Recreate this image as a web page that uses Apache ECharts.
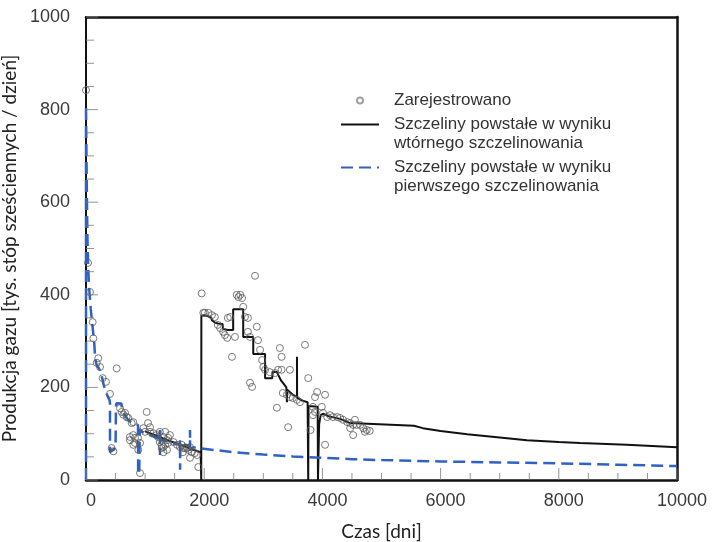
<!DOCTYPE html>
<html>
<head>
<meta charset="utf-8">
<script src="https://cdn.jsdelivr.net/npm/echarts@6/dist/echarts.min.js"></script>
<style>
  html, body { margin: 0; padding: 0; background: #fff; }
  #chart { width: 714px; height: 542px; }
</style>
</head>
<body>
<div id="chart"></div>
<script>
// Zarejestrowano - punkty pomiarowe [czas (dni), produkcja]
var recorded = [
  [0, 842], [34, 469], [68, 406], [113, 341], [124, 306], [181, 253], [208, 263], [237, 244],
  [282, 220], [338, 212], [406, 186], [519, 241], [434, 69], [462, 62], [575, 155], [604, 147],
  [631, 141], [660, 145], [688, 136], [716, 134], [800, 125], [773, 123], [744, 93], [800, 97],
  [829, 91], [744, 86], [800, 76], [829, 80], [880, 91], [914, 80], [885, 65], [914, 15],
  [970, 112], [1000, 104], [1027, 147], [1050, 123], [1083, 114], [1083, 104], [1140, 101],
  [1195, 97], [1250, 104], [1220, 93], [1310, 93], [1340, 104], [1390, 91], [1420, 97],
  [1250, 82], [1280, 76], [1310, 71], [1370, 86], [1390, 80], [1340, 76], [1280, 69], [1370, 65],
  [1310, 60], [1480, 82], [1540, 76], [1590, 71], [1620, 76], [1650, 69], [1680, 69], [1710, 69],
  [1730, 65], [1760, 71], [1790, 60], [1840, 58], [1880, 54], [1760, 48], [1900, 28], [1640, 60],
  [1957, 403], [1985, 361], [2010, 361], [2070, 361], [2130, 356], [2180, 352], [2230, 335],
  [2270, 328], [2320, 320], [2350, 313], [2390, 307], [2400, 350], [2440, 352], [2550, 400],
  [2580, 395], [2610, 400], [2640, 393], [2520, 309], [2470, 266], [2660, 374], [2690, 352],
  [2740, 350], [2860, 441], [2890, 331], [2740, 320], [2775, 309], [2910, 302], [2945, 281],
  [2980, 259], [3000, 244], [3030, 238], [3110, 233], [3200, 231], [3250, 238], [3310, 238],
  [3450, 238], [2775, 210], [2810, 201], [3280, 285], [3310, 266], [3230, 156], [3330, 188],
  [3400, 184], [3450, 179], [3500, 177], [3570, 173], [3620, 168], [3705, 292], [3760, 220],
  [3420, 114], [3910, 190], [3875, 179], [4045, 184], [3840, 158], [3875, 147], [3840, 140],
  [3990, 158], [4010, 145], [3800, 108], [4045, 76], [4080, 136], [4130, 140], [4180, 136],
  [4250, 136], [4300, 134], [4350, 130], [4420, 125], [4470, 123], [4520, 119], [4580, 119],
  [4640, 119], [4690, 112], [4750, 108], [4800, 106], [4470, 112], [4520, 97], [4550, 130],
  [4720, 104]
];

// Szczeliny powstałe w wyniku wtórnego szczelinowania (model)
var secondaryFrac = [
  [1000, 105], [1200, 95], [1400, 85], [1600, 76], [1800, 66], [1940, 60], [1950, 0],
  [1952, 355], [2000, 356], [2060, 354], [2120, 350], [2130, 345], [2180, 340], [2230, 338],
  [2310, 337], [2320, 326], [2400, 324], [2490, 324], [2490, 369], [2660, 369], [2660, 309],
  [2830, 309], [2830, 272], [3030, 272], [3030, 220], [3150, 220], [3160, 233], [3230, 233],
  [3300, 215], [3390, 200], [3400, 201], [3400, 168], [3405, 195], [3500, 184], [3570, 180],
  [3570, 266], [3572, 178], [3650, 172], [3750, 168], [3760, 165], [3760, 0], [3765, 0],
  [3765, 160], [3920, 158], [3925, 0], [3940, 0], [3945, 120], [3970, 140], [4010, 143],
  [4100, 138], [4300, 132], [4470, 123], [4480, 119], [5550, 117], [5700, 112], [6000, 106],
  [6450, 99], [7000, 92], [7460, 86], [8000, 82], [8360, 80], [9150, 76], [10000, 71]
];

// Szczeliny powstałe w wyniku pierwszego szczelinowania (model)
var primaryFrac = [
  [0, 0], [0, 810], [8, 700], [16, 600], [25, 520], [35, 470], [50, 420], [65, 395], [80, 370],
  [100, 345], [120, 320], [140, 295], [155, 262], [175, 250], [210, 243], [240, 236], [270, 222],
  [300, 205], [330, 192], [370, 180], [400, 172], [406, 166], [406, 60], [425, 60], [440, 64],
  [500, 69], [507, 69], [507, 160], [515, 166], [600, 165], [610, 152], [650, 143], [700, 132],
  [760, 125], [800, 122], [880, 119], [882, 20], [900, 12], [905, 15], [910, 110], [950, 104],
  [1030, 100], [1120, 95], [1220, 90], [1250, 88], [1250, 108], [1252, 54], [1256, 88],
  [1350, 84], [1450, 80], [1590, 76], [1590, 86], [1592, 22], [1596, 80], [1680, 76], [1760, 74],
  [1760, 108], [1762, 66], [1800, 70], [1880, 70], [1950, 68], [2500, 60], [3000, 55],
  [3500, 51], [4000, 48], [4500, 45], [5000, 43], [6000, 40], [7000, 38], [8000, 36],
  [9000, 33], [10000, 30]
];

// podziałki osi
var xMajorTicks = [0, 2000, 4000, 6000, 8000, 10000];
var xMinorTicks = [500, 1000, 1500, 2500, 3000, 3500, 4500, 5000, 5500,
  6500, 7000, 7500, 8500, 9000, 9500];
var yMajorTicks = [0, 200, 400, 600, 800, 1000];
var yMinorTicks = [50, 100, 150, 250, 300, 350, 450, 500, 550,
  650, 700, 750, 850, 900, 950];

var names = [
  'Zarejestrowano',
  'Szczeliny powstałe w wyniku\nwtórnego szczelinowania',
  'Szczeliny powstałe w wyniku\npierwszego szczelinowania'
];

var chart = echarts.init(document.getElementById('chart'));

// górna i prawa krawędź ramki
var frameAxis = {
  axisLine: { show: true, onZero: false, lineStyle: { color: '#111', width: 2.5 } },
  axisTick: { show: false },
  minorTick: { show: false },
  axisLabel: { show: false },
  splitLine: { show: false }
};

// kreski podziałki jako wąskie prostokąty (symbol 'rect'), skierowane do środka wykresu
function tickMarks(values, isX, len) {
  return {
    type: 'scatter',
    silent: true,
    clip: false,
    z: 5,
    symbol: 'rect',
    symbolSize: isX ? [1, len] : [len, 1],
    symbolOffset: isX ? [0, -len / 2] : [len / 2, 0],
    itemStyle: { color: '#7a7a7a', borderWidth: 0 },
    data: values.map(function (v) { return isX ? [v, 0] : [0, v]; })
  };
}

var option = {
  animation: false,
  grid: { left: 86, right: 37, top: 17, bottom: 62, outerBoundsMode: 'none' },
  tooltip: { show: false },
  legend: {
    orient: 'vertical',
    left: 340,
    top: 91,
    padding: 0,
    itemWidth: 38,
    itemHeight: 6,
    itemGap: -14,
    // pusta linia na początku, żeby ikona stała przy pierwszym wierszu
    formatter: function (name) {
      return name.indexOf('\n') >= 0 ? '\n' + name : name;
    },
    textStyle: { fontSize: 17, lineHeight: 19, color: '#333', fontFamily: 'Liberation Sans', padding: [0, 0, 0, 10] },
    data: [
      { name: names[0], itemStyle: { borderColor: '#888' } },
      { name: names[1], itemStyle: { opacity: 0 } },
      { name: names[2], itemStyle: { opacity: 0 } }
    ]
  },
  xAxis: [{
    type: 'value',
    min: 0, max: 10000, interval: 2000,
    name: 'Czas [dni]',
    nameLocation: 'middle',
    nameGap: 42,
    nameTextStyle: { fontSize: 19, color: '#222', fontFamily: 'Lato' },
    axisLine: { show: true, onZero: false, lineStyle: { color: '#111', width: 2.5 } },
    axisTick: { show: false },
    minorTick: { show: false },
    axisLabel: {
      fontSize: 18, color: '#3a3a3a', fontFamily: 'Liberation Sans', margin: 12, padding: [0, 0, 0, 10],
      formatter: function (v) { return String(v); }
    },
    splitLine: { show: false }
  }, Object.assign({ type: 'value', position: 'top', min: 0, max: 10000 }, frameAxis)],
  yAxis: [{
    type: 'value',
    min: 0, max: 1000, interval: 200,
    name: 'Produkcja gazu [tys. stóp sześciennych / dzień]',
    nameLocation: 'middle',
    nameGap: 52,
    nameTextStyle: { fontSize: 19, color: '#222', fontFamily: 'Lato' },
    axisLine: { show: true, onZero: false, lineStyle: { color: '#111', width: 2 } },
    axisTick: { show: false },
    minorTick: { show: false },
    axisLabel: {
      fontSize: 18, color: '#3a3a3a', fontFamily: 'Liberation Sans', margin: 16,
      formatter: function (v) { return String(v); }
    },
    splitLine: { show: false }
  }, Object.assign({ type: 'value', position: 'right', min: 0, max: 1000 }, frameAxis)],
  series: [
    {
      name: names[1],
      type: 'line',
      data: secondaryFrac,
      showSymbol: false,
      symbol: 'none',
      z: 2,
      lineStyle: { color: '#111', width: 2 },
      itemStyle: { color: '#111' }
    },
    {
      name: names[2],
      type: 'line',
      data: primaryFrac,
      showSymbol: false,
      symbol: 'none',
      z: 3,
      lineStyle: { color: '#2f62c4', width: 2.5, type: [12, 6] },
      itemStyle: { color: '#2f62c4' }
    },
    {
      name: names[0],
      type: 'scatter',
      data: recorded,
      symbol: 'circle',
      symbolSize: 7,
      z: 4,
      itemStyle: { color: 'rgba(255,255,255,0)', borderColor: '#5a5a5a', borderWidth: 1 }
    },
    tickMarks(xMajorTicks, true, 12),
    tickMarks(xMinorTicks, true, 7),
    tickMarks(yMajorTicks, false, 12),
    tickMarks(yMinorTicks, false, 8)
  ]
};

chart.setOption(option);
</script>
</body>
</html>
